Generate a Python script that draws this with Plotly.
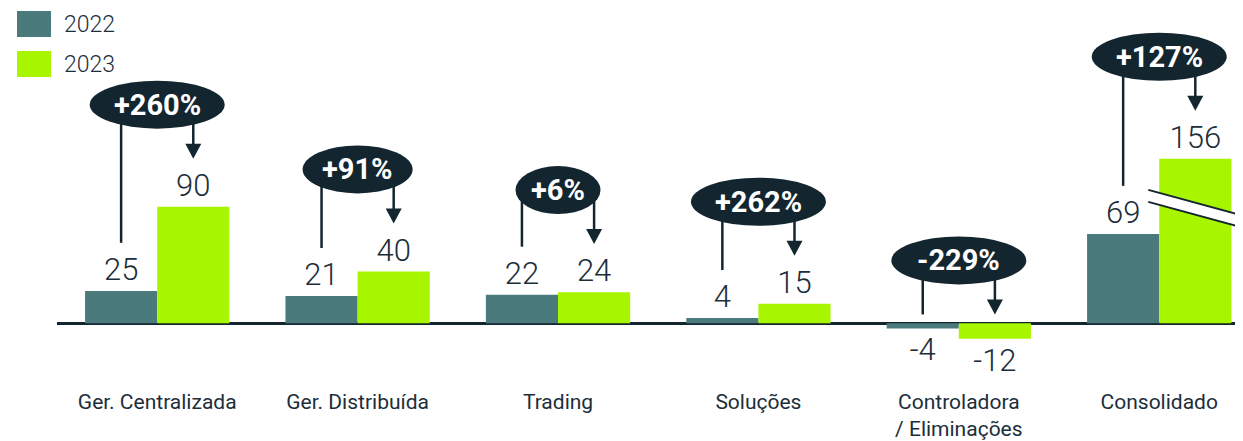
import plotly.graph_objects as go

categories = ["Ger. Centralizada", "Ger. Distribuída", "Trading", "Soluções",
              "Controladora<br>/ Eliminações", "Consolidado"]
series_names = ["2022", "2023"]
values_2022 = [25, 21, 22, 4, -4, 69]
values_2023 = [90, 40, 24, 15, -12, 156]
growth_labels = ["+260%", "+91%", "+6%", "+262%", "-229%", "+127%"]

NAVY = "#13262f"
TEAL = "#4a7a7c"
LIME = "#a8f500"
TEXT = "#1c2e3a"
FONT = "Roboto"

# the 2023 consolidated bar is cut by an axis break
BREAK_AT = 127

# page has an 8px body margin, so sizes are trimmed to keep the frame in place
W, H = 1235, 433
Y_RANGE = [-49.2, 243.5]
MARGIN_B = 47
PLOT_H = H - MARGIN_B
PX = PLOT_H / (Y_RANGE[1] - Y_RANGE[0])   # pixels per unit
OFF = 0.18                                 # half of a bar, in category units


def shown(v):
    return min(v, BREAK_AT)


x = list(range(len(categories)))
shown_2023 = [shown(v) for v in values_2023]

fig = go.Figure()
fig.add_trace(go.Bar(
    x=x, y=values_2022, name=series_names[0],
    marker=dict(color=TEAL, line_width=0),
    text=[str(v) for v in values_2022], textposition="outside",
    textfont=dict(size=31, color=TEXT, family=FONT, weight=300),
    cliponaxis=False))
fig.add_trace(go.Bar(
    x=x, y=shown_2023, name=series_names[1],
    marker=dict(color=LIME, line_width=0),
    text=[str(v) for v in values_2023], textposition="outside",
    textfont=dict(size=31, color=TEXT, family=FONT, weight=300),
    cliponaxis=False))

shapes = []
annotations = []
for i in x:
    top22 = max(values_2022[i], 0)
    gap22 = 49 if values_2022[i] > 0 else 9
    top23 = max(shown_2023[i], 0)
    gap23 = 49 if values_2023[i] > 0 else 9
    tip_y = top23 + gap23 / PX
    ell_y = tip_y + 55 / PX

    # connector from the 2022 value up into the bubble
    shapes.append(dict(type="line", xref="x", yref="y",
                       x0=i - OFF, x1=i - OFF, y0=top22 + gap22 / PX, y1=ell_y,
                       line=dict(color=NAVY, width=2.5)))
    # arrow down to the 2023 value
    shapes.append(dict(type="line", xref="x", yref="y",
                       x0=i + OFF, x1=i + OFF, y0=tip_y + 10 / PX, y1=ell_y,
                       line=dict(color=NAVY, width=2.5)))
    shapes.append(dict(type="path", xref="x", yref="y",
                       xsizemode="pixel", ysizemode="pixel",
                       xanchor=i + OFF, yanchor=tip_y,
                       path="M-8,15 L8,15 L0,0 Z",
                       fillcolor=NAVY, line=dict(width=0)))
    w = 25 * len(growth_labels[i]) + 10
    shapes.append(dict(type="circle", xref="x", yref="y",
                       xsizemode="pixel", ysizemode="pixel",
                       xanchor=i, yanchor=ell_y,
                       x0=-w / 2, x1=w / 2, y0=-24, y1=24,
                       fillcolor=NAVY, line=dict(width=0)))
    annotations.append(dict(x=i, y=ell_y, xref="x", yref="y",
                            text="<b>%s</b>" % growth_labels[i], showarrow=False,
                            font=dict(size=29, color="white", family=FONT)))

# axis break marks on the consolidated 2023 bar
bx = x[-1] + OFF
shapes.append(dict(type="path", xref="x", yref="y",
                   xsizemode="pixel", ysizemode="pixel",
                   xanchor=bx, yanchor=BREAK_AT,
                   path="M-47,-31 L70,-63 L70,-75 L-47,-43 Z",
                   fillcolor="white", line=dict(width=0)))
for dy in (-31, -43):
    shapes.append(dict(type="path", xref="x", yref="y",
                       xsizemode="pixel", ysizemode="pixel",
                       xanchor=bx, yanchor=BREAK_AT,
                       path="M-47,%d L70,%d" % (dy, dy - 32),
                       line=dict(color=NAVY, width=2)))

# legend drawn as big swatches
for k, (name, col) in enumerate(zip(series_names, [TEAL, LIME])):
    shapes.append(dict(type="rect", xref="paper", yref="paper",
                       xsizemode="pixel", ysizemode="pixel",
                       xanchor=0, yanchor=1,
                       x0=-40, x1=-6, y0=-3 - 40 * k, y1=-29 - 40 * k,
                       fillcolor=col, line=dict(width=0)))
    annotations.append(dict(x=0, y=1, xref="paper", yref="paper",
                            xshift=5, yshift=-16 - 40 * k,
                            xanchor="left", yanchor="middle",
                            text=name, showarrow=False,
                            font=dict(size=23, color=TEXT, family=FONT, weight=300)))

fig.update_layout(
    width=W, height=H,
    margin=dict(l=49, r=0, t=0, b=MARGIN_B),
    paper_bgcolor="white", plot_bgcolor="white",
    barmode="group", bargap=0.28, bargroupgap=0,
    showlegend=False,
    shapes=shapes, annotations=annotations,
    xaxis=dict(range=[-0.5, 5.418], tickvals=x, ticktext=categories,
               showgrid=False, showline=False, ticks="", zeroline=False,
               tickfont=dict(size=21, color=TEXT, family=FONT)),
    yaxis=dict(range=Y_RANGE, showgrid=False, showticklabels=False,
               zeroline=True, zerolinecolor=NAVY, zerolinewidth=2.5),
)

fig.write_html("out.html")
